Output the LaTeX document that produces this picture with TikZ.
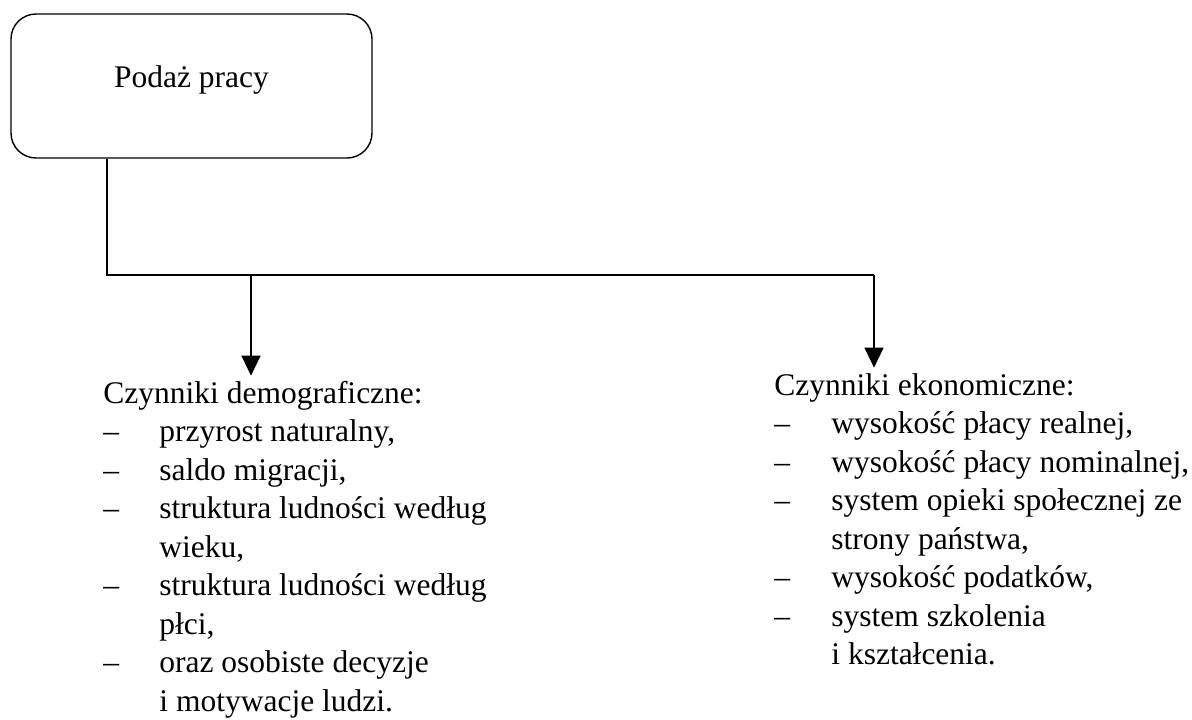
\documentclass[tikz,border=0pt]{standalone}
\usepackage{fontspec}
\setmainfont{Liberation Serif}
\usepackage{tikz}
\usetikzlibrary{arrows.meta}
\tikzset{
  box/.style={draw, rounded corners=12.5pt, line width=0.7pt, minimum width=180.5pt, minimum height=72pt, inner sep=0pt},
  lab/.style={font=\fontsize{15.75}{19.25}\selectfont},
  link/.style={draw, line width=0.7pt},
  arr/.style={link, -{Triangle[width=9.5pt,length=10pt]}},
  list/.style={lab, inner sep=0pt, anchor=base west},
}

\begin{document}
\begin{tikzpicture}[x=0.5pt, y=-0.5pt]
  \useasboundingbox (0,0) rectangle (1192,719);
  \node[box] (supply) at (191.5,86) {};
  \node[lab, anchor=base] (supplytxt) at (191.5,87) {Podaż pracy};

  \coordinate (split) at (107,275);
  \coordinate (jl) at (251,275);
  \coordinate (jr) at (874,275);

  \node[list] (demo) at (103,403) {\begin{tabular}[t]{@{}p{28pt}@{}l@{}}
    \multicolumn{2}{@{}l@{}}{Czynniki demograficzne:}\\
    – & przyrost naturalny,\\
    – & saldo migracji,\\
    – & struktura ludności według\\
      & wieku,\\
    – & struktura ludności według\\
      & płci,\\
    – & oraz osobiste decyzje\\
      & i motywacje ludzi.
  \end{tabular}};
  \node[list] (econ) at (774,395) {\begin{tabular}[t]{@{}p{28.5pt}@{}l@{}}
    \multicolumn{2}{@{}l@{}}{Czynniki ekonomiczne:}\\
    – & wysokość płacy realnej,\\
    – & wysokość płacy nominalnej,\\
    – & system opieki społecznej ze\\
      & strony państwa,\\
    – & wysokość podatków,\\
    – & system szkolenia\\
      & i kształcenia.
  \end{tabular}};

  \draw[link] (supply.south -| split) -- (split) -- (jr);
  \draw[arr] (jl) -- (jl |- demo.north);
  \draw[arr] (jr) -- (jr |- econ.north);
\end{tikzpicture}
\end{document}
